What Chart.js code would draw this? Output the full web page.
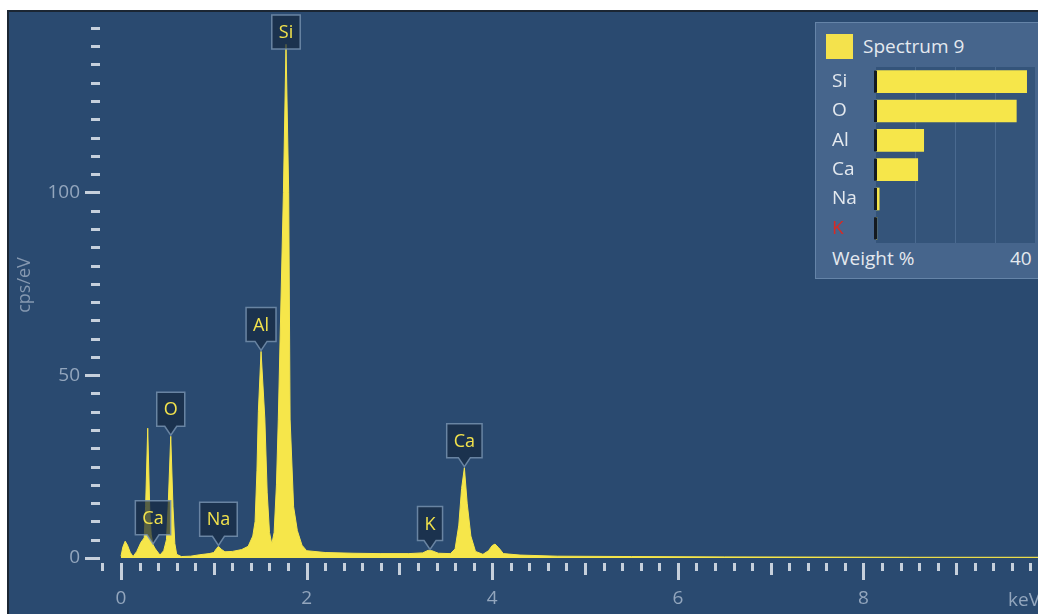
<!DOCTYPE html>
<html>
<head>
<meta charset="utf-8">
<script src="https://cdn.jsdelivr.net/npm/chart.js@4.4.1/dist/chart.umd.min.js"></script>
<style>
  html, body { margin:0; padding:0; background:#ffffff; width:1038px; height:614px; overflow:hidden; }
  #wrap { position:relative; width:1038px; height:614px; overflow:hidden; }
  #main { position:absolute; left:0; top:0; }
  #panel { position:absolute; left:815px; top:22px; width:240px; height:257px; box-sizing:border-box;
           background:#46658c; border:1px solid #6584a8; }
  #swatch { position:absolute; left:10px; top:11px; width:27px; height:25px; background:#f4e24c; }
  #ptitle { position:absolute; left:47px; top:11px; height:25px; line-height:25px;
            font-family:'Open Sans', sans-serif; font-size:19px; color:#e4e9ef; white-space:nowrap; }
  #wt { position:absolute; left:16px; top:44px; }
  #wlabel { position:absolute; left:16px; top:223px; line-height:24px;
            font-family:'Open Sans', sans-serif; font-size:19px; color:#e4e9ef; white-space:nowrap; }
  #wmax { position:absolute; left:194px; top:223px; line-height:24px;
          font-family:'Open Sans', sans-serif; font-size:19px; color:#e4e9ef; white-space:nowrap; }
</style>
</head>
<body>
<div id="wrap">
  <canvas id="main" width="1038" height="614"></canvas>
  <div id="panel">
    <div id="swatch"></div>
    <div id="ptitle">Spectrum 9</div>
    <canvas id="wt" width="203" height="176"></canvas>
    <div id="wlabel">Weight %</div>
    <div id="wmax">40</div>
  </div>
</div>
<script>
// ---------------- DATA ----------------
// EDS spectrum, energy (keV) vs intensity (cps/eV)
const energies = [
  0.00, 0.02, 0.045, 0.07, 0.10, 0.13, 0.17, 0.215, 0.25, 0.265, 0.288, 0.31, 0.325,
  0.345, 0.37, 0.42, 0.46, 0.49, 0.508, 0.536, 0.56, 0.58, 0.60, 0.65, 0.75, 0.85,
  0.95, 1.00, 1.03, 1.05, 1.08, 1.12, 1.20, 1.30, 1.37, 1.42, 1.445, 1.465, 1.48,
  1.509, 1.55, 1.575, 1.60, 1.625, 1.65, 1.675, 1.695, 1.75, 1.778, 1.807, 1.822,
  1.86, 1.90, 1.95, 2.00, 2.2, 2.5, 2.8, 3.1, 3.25, 3.31, 3.35, 3.42, 3.55, 3.60,
  3.64, 3.67, 3.70, 3.73, 3.77, 3.82, 3.90, 3.96, 4.00, 4.03, 4.07, 4.12, 4.3, 4.7,
  5.5, 6.5, 7.5, 8.5, 9.9
];
const counts = [
  0.5, 3.0, 4.6, 3.5, 1.5, 0.4, 1.8, 4.3, 5.5, 14, 35.5, 13, 6.5,
  3.6, 2.5, 0.8, 2.0, 5.0, 14, 33.3, 14, 4.0, 1.0, 0.4, 0.5, 0.9,
  1.2, 1.5, 2.6, 3.2, 2.4, 1.7, 1.8, 2.3, 3.2, 6.0, 10, 24, 40,
  56.5, 38, 18, 7.0, 3.8, 7.0, 20, 38, 100, 140.5, 100, 38,
  14, 7.5, 3.5, 2.0, 1.5, 1.3, 1.2, 1.2, 1.4, 2.1, 2.0, 1.3, 1.2, 2.5,
  9, 19, 24.7, 15, 6, 1.8, 1.0, 2.0, 3.4, 3.8, 2.8, 1.2, 0.8, 0.5,
  0.4, 0.3, 0.25, 0.2, 0.2
];
// Peak identification labels
const peakNames    = ['Si', 'Al', 'O', 'Ca', 'Na', 'K', 'Ca'];
const peakEnergies = [1.778, 1.509, 0.536, 0.345, 1.05, 3.33, 3.70];
// Axis tick labels
const xTickValues = [0, 2, 4, 6, 8];
const yTickValues = [0, 50, 100];
// Weight % inset
const wtElements = ['Si', 'O', 'Al', 'Ca', 'Na', 'K'];
const wtValues   = [37.9, 35.3, 12.0, 10.5, 0.8, 0.2];
const wtGrid     = [10, 20, 30];

// ---------------- STYLE ----------------
const FONT = "'Open Sans', 'Noto Sans', sans-serif";
const BG = '#2a4a70';
const YELLOW = '#f6e64a';
const TICKTXT = '#93a6bd';
const TICKMARK = '#c6d0dc';

function noPad(s) { s.paddingTop = 0; s.paddingBottom = 0; s.paddingLeft = 0; s.paddingRight = 0; }

function valueNear(e) {
  let best = 0;
  for (let i = 0; i < energies.length; i++) {
    if (Math.abs(energies[i] - e) <= 0.015) best = Math.max(best, counts[i]);
  }
  for (let i = 0; i < energies.length - 1; i++) {
    if (energies[i] <= e && e <= energies[i + 1]) {
      const t = (e - energies[i]) / (energies[i + 1] - energies[i]);
      best = Math.max(best, counts[i] + t * (counts[i + 1] - counts[i]));
    }
  }
  return best;
}

const bgPlugin = {
  id: 'bg',
  beforeDraw(chart) {
    const { ctx, width, height } = chart;
    ctx.save();
    ctx.fillStyle = '#ffffff';
    ctx.fillRect(0, 0, width, height);
    ctx.fillStyle = BG;
    ctx.fillRect(8, 11, width - 8, height - 11);
    ctx.fillStyle = '#1b2633';
    ctx.fillRect(7, 10, width - 7, 2);
    ctx.fillRect(7, 10, 2, height - 10);
    ctx.restore();
  }
};

const tickPlugin = {
  id: 'tickmarks',
  afterDraw(chart) {
    const { ctx, chartArea } = chart;
    const x = chart.scales.x, y = chart.scales.y;
    ctx.save();
    ctx.fillStyle = TICKMARK;
    for (let k = -1; k <= 60; k++) {
      const v = k * 0.2;
      if (v > x.max) break;
      const px = x.getPixelForValue(v);
      const len = (k % 10 === 0) ? 17 : ((k % 5 === 0) ? 12 : 8);
      ctx.fillRect(Math.round(px) - 1, chartArea.bottom + 5, 3, len);
    }
    for (let k = 0; k <= 29; k++) {
      const v = k * 5;
      if (v > y.max) break;
      const py = y.getPixelForValue(v);
      const len = (k % 10 === 0) ? 15 : 9;
      ctx.fillRect(chartArea.left - len, Math.round(py) - 1, len, 3);
    }
    ctx.fillStyle = TICKTXT;
    ctx.font = '19px ' + FONT;
    ctx.textAlign = 'left';
    ctx.textBaseline = 'middle';
    ctx.fillText('keV', 1008, 601);
    ctx.restore();
  }
};

const peakLabelPlugin = {
  id: 'peakLabels',
  afterDatasetsDraw(chart) {
    const { ctx, chartArea } = chart;
    const x = chart.scales.x, y = chart.scales.y;
    ctx.save();
    ctx.font = '18px ' + FONT;
    peakNames.forEach((name, i) => {
      const e = peakEnergies[i];
      const px = x.getPixelForValue(e);
      const tip = y.getPixelForValue(valueNear(e)) - 1;
      const w = ctx.measureText(name).width + 14;
      const h = 34, ptr = 9;
      const top = Math.max(chartArea.top + 3, tip - ptr - h);
      const bottom = top + h;
      const l = px - w / 2, r = px + w / 2;
      ctx.beginPath();
      ctx.moveTo(l, top);
      ctx.lineTo(r, top);
      ctx.lineTo(r, bottom);
      if (tip - bottom > 3) {
        ctx.lineTo(px + 6, bottom);
        ctx.lineTo(px, tip);
        ctx.lineTo(px - 6, bottom);
      }
      ctx.lineTo(l, bottom);
      ctx.closePath();
      ctx.fillStyle = 'rgba(22,40,64,0.70)';
      ctx.fill();
      ctx.strokeStyle = 'rgba(118,144,174,0.85)';
      ctx.lineWidth = 1.5;
      ctx.stroke();
      ctx.fillStyle = '#f3e34c';
      ctx.textAlign = 'center';
      ctx.textBaseline = 'middle';
      ctx.fillText(name, px, (top + bottom) / 2 + 1);
    });
    ctx.restore();
  }
};

new Chart(document.getElementById('main'), {
  type: 'line',
  data: {
    datasets: [{
      data: energies.map((e, i) => ({ x: e, y: counts[i] })),
      fill: 'origin',
      backgroundColor: YELLOW,
      borderColor: YELLOW,
      borderWidth: 1,
      pointRadius: 0,
      tension: 0
    }]
  },
  options: {
    responsive: false,
    animation: false,
    events: [],
    layout: { padding: { top: 12, left: 0, right: 0, bottom: 0 } },
    plugins: { legend: { display: false }, tooltip: { enabled: false } },
    scales: {
      x: {
        type: 'linear',
        min: -0.2263,
        max: 9.881,
        afterBuildTicks: s => { s.ticks = xTickValues.map(v => ({ value: v })); },
        afterFit: s => { s.height = 56; noPad(s); },
        ticks: { color: TICKTXT, font: { family: FONT, size: 19 }, padding: 29, maxRotation: 0, autoSkip: false },
        grid: { display: true, drawOnChartArea: false, drawTicks: false },
        border: { display: false }
      },
      y: {
        type: 'linear',
        min: 0,
        max: 149.34,
        afterBuildTicks: s => { s.ticks = yTickValues.map(v => ({ value: v })); },
        afterFit: s => { s.width = 100; noPad(s); },
        ticks: { color: TICKTXT, font: { family: FONT, size: 19 }, padding: 20 },
        grid: { display: true, drawOnChartArea: false, drawTicks: false },
        border: { display: false },
        title: { display: true, text: 'cps/eV', color: '#8598b0', font: { family: FONT, size: 18 }, padding: { top: 14, bottom: 0 } }
      }
    }
  },
  plugins: [bgPlugin, tickPlugin, peakLabelPlugin]
});

// ---------------- Weight % inset ----------------
const trackPlugin = {
  id: 'track',
  beforeDraw(chart) {
    const { ctx, chartArea } = chart;
    ctx.save();
    ctx.fillStyle = '#34547a';
    ctx.fillRect(chartArea.left, chartArea.top, chartArea.right - chartArea.left, chartArea.bottom - chartArea.top);
    ctx.restore();
  },
  afterDatasetsDraw(chart) {
    const { ctx } = chart;
    const meta = chart.getDatasetMeta(0);
    ctx.save();
    ctx.fillStyle = '#141a20';
    meta.data.forEach(el => {
      ctx.fillRect(el.base - 2, el.y - el.height / 2, 3, el.height);
    });
    ctx.restore();
  }
};

new Chart(document.getElementById('wt'), {
  type: 'bar',
  data: {
    labels: wtElements,
    datasets: [{ data: wtValues, backgroundColor: YELLOW, barThickness: 22, borderWidth: 0 }]
  },
  options: {
    indexAxis: 'y',
    responsive: false,
    animation: false,
    events: [],
    layout: { padding: 0 },
    plugins: { legend: { display: false }, tooltip: { enabled: false } },
    scales: {
      x: {
        min: 0, max: 40,
        afterBuildTicks: s => { s.ticks = wtGrid.map(v => ({ value: v })); },
        afterFit: s => { s.height = 0; noPad(s); },
        ticks: { display: false },
        grid: { color: '#4a6a90', lineWidth: 1, drawTicks: false },
        border: { display: false }
      },
      y: {
        afterFit: s => { s.width = 44; noPad(s); },
        ticks: {
          crossAlign: 'far',
          padding: 0,
          color: c => (c.tick && c.tick.label === 'K') ? '#d82a24' : '#e4e9ef',
          font: { family: FONT, size: 19 }
        },
        grid: { display: false },
        border: { display: false }
      }
    }
  },
  plugins: [trackPlugin]
});
</script>
</body>
</html>
